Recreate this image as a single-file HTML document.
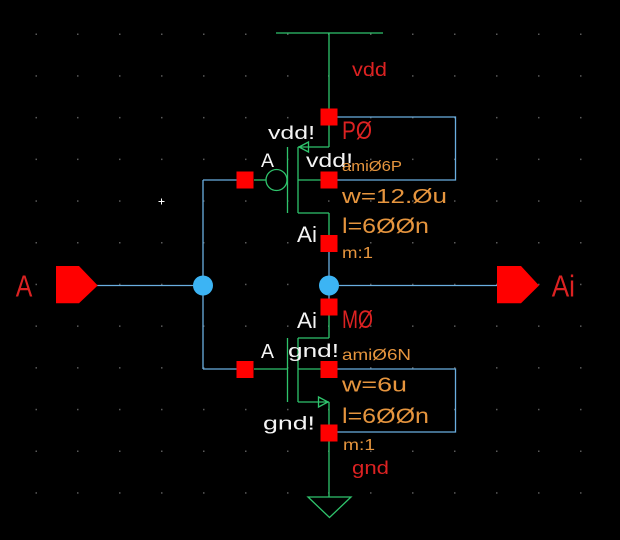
<!DOCTYPE html>
<html><head><meta charset="utf-8"><style>
html,body{margin:0;padding:0;background:#000;}
svg{display:block;}
text{font-family:"Liberation Sans",sans-serif;}
</style></head><body>
<svg width="620" height="540" viewBox="0 0 620 540" xmlns="http://www.w3.org/2000/svg">
<rect width="620" height="540" fill="#000"/>
<g fill="#5a5a5a">
<!-- grid dots -->
<g id="row">
<rect x="35.5" y="33.5" width="1.5" height="1.5"/><rect x="77" y="33.5" width="1.5" height="1.5"/><rect x="119" y="33.5" width="1.5" height="1.5"/><rect x="161" y="33.5" width="1.5" height="1.5"/><rect x="203" y="33.5" width="1.5" height="1.5"/><rect x="245" y="33.5" width="1.5" height="1.5"/><rect x="287" y="33.5" width="1.5" height="1.5"/><rect x="328" y="33.5" width="1.5" height="1.5"/><rect x="370" y="33.5" width="1.5" height="1.5"/><rect x="412" y="33.5" width="1.5" height="1.5"/><rect x="454" y="33.5" width="1.5" height="1.5"/><rect x="496" y="33.5" width="1.5" height="1.5"/><rect x="538" y="33.5" width="1.5" height="1.5"/><rect x="580" y="33.5" width="1.5" height="1.5"/>
</g>
<use href="#row" y="41.7"/><use href="#row" y="83.4"/><use href="#row" y="125.1"/><use href="#row" y="166.8"/><use href="#row" y="208.5"/><use href="#row" y="250.2"/><use href="#row" y="291.9"/><use href="#row" y="333.6"/><use href="#row" y="375.3"/><use href="#row" y="417"/><use href="#row" y="458.7"/>
</g>
<path d="M158.5 201.5h6M161.5 198.5v6" stroke="#fff" stroke-width="1"/>

<!-- blue wires -->
<g stroke="#6aaee0" stroke-width="1.3" fill="none">
<path d="M97 285.5H203M203 180V369M203 180H245M203 369H245M329 285.5H497M329 243V307"/>
<path d="M329 117H455.5V180H329"/>
<path d="M329 369H455.5V432H329"/>
</g>

<!-- green device lines -->
<g stroke="#2fc46c" stroke-width="1.3" fill="none">
<path d="M276 33H383M329 33V147"/>
<path d="M298 147H329M298 147V213M287.5 147V213M298 180H329M298 213H329M329 213V243"/>
<path d="M299 147L308.5 142V152Z"/>
<circle cx="276.5" cy="180" r="10.5"/>
<path d="M254 180H266"/>
<path d="M329 307V338M298 338H329M298 338V402M287.5 338V402M298 369H329M298 402H329M329 402V497"/>
<path d="M328 402L318.5 397V407Z"/>
<path d="M254 369H287.5"/>
<path d="M308 497H351L329.5 517.5Z"/>
</g>

<!-- pins -->
<polygon points="56,266 79,266 97.7,285.5 79,303.3 56,303.3" fill="#ff0000"/>
<polygon points="497,266 521,266 539,285.5 521,303.3 497,303.3" fill="#ff0000"/>

<!-- junction dots -->
<circle cx="203" cy="285.5" r="10" fill="#3cb4f4"/>
<circle cx="329" cy="285.5" r="10" fill="#3cb4f4"/>

<!-- terminal squares -->
<g fill="#ff0000">
<rect x="320.5" y="108.5" width="17" height="17"/>
<rect x="320.5" y="171.5" width="17" height="17"/>
<rect x="236.5" y="171.5" width="17" height="17"/>
<rect x="320.5" y="235" width="17" height="17"/>
<rect x="320.5" y="298.5" width="17" height="17"/>
<rect x="320.5" y="361" width="17" height="17"/>
<rect x="236.5" y="361" width="17" height="17"/>
<rect x="320.5" y="424.5" width="17" height="17"/>
</g>

<!-- red labels -->
<g fill="#dc2222">
<text x="15.7" y="296.7" font-size="31" textLength="16.6" lengthAdjust="spacingAndGlyphs">A</text>
<text x="551.7" y="296.7" font-size="31" textLength="23.3" lengthAdjust="spacingAndGlyphs">Ai</text>
<text x="352" y="76" font-size="19" textLength="35" lengthAdjust="spacingAndGlyphs">vdd</text>
<text x="342" y="139" font-size="25" textLength="30" lengthAdjust="spacingAndGlyphs">PØ</text>
<text x="342" y="328" font-size="25" textLength="31" lengthAdjust="spacingAndGlyphs">MØ</text>
<text x="352" y="474" font-size="18" textLength="37" lengthAdjust="spacingAndGlyphs">gnd</text>
</g>

<!-- white labels -->
<g fill="#f4f4f4">
<text x="268" y="139" font-size="18" textLength="47" lengthAdjust="spacingAndGlyphs">vdd!</text>
<text x="261" y="167" font-size="19" textLength="13" lengthAdjust="spacingAndGlyphs">A</text>
<text x="306" y="167" font-size="19" textLength="47" lengthAdjust="spacingAndGlyphs">vdd!</text>
<text x="297" y="242" font-size="22" textLength="20" lengthAdjust="spacingAndGlyphs">Ai</text>
<text x="297" y="328" font-size="22" textLength="20" lengthAdjust="spacingAndGlyphs">Ai</text>
<text x="261" y="358" font-size="20" textLength="13" lengthAdjust="spacingAndGlyphs">A</text>
<text x="288" y="357" font-size="18" textLength="51" lengthAdjust="spacingAndGlyphs">gnd!</text>
<text x="263" y="429.5" font-size="18" textLength="52" lengthAdjust="spacingAndGlyphs">gnd!</text>
</g>

<!-- orange property labels -->
<g fill="#e6953e">
<text x="342" y="171" font-size="15" textLength="60" lengthAdjust="spacingAndGlyphs">amiØ6P</text>
<text x="342" y="203" font-size="20" textLength="105" lengthAdjust="spacingAndGlyphs">w=12.Øu</text>
<text x="342" y="233" font-size="21" textLength="87" lengthAdjust="spacingAndGlyphs">l=6ØØn</text>
<text x="342" y="258" font-size="16" textLength="31" lengthAdjust="spacingAndGlyphs">m:1</text>
<text x="342" y="360" font-size="16" textLength="69" lengthAdjust="spacingAndGlyphs">amiØ6N</text>
<text x="342" y="391.7" font-size="20" textLength="65" lengthAdjust="spacingAndGlyphs">w=6u</text>
<text x="342" y="423" font-size="21" textLength="87" lengthAdjust="spacingAndGlyphs">l=6ØØn</text>
<text x="343" y="450" font-size="16" textLength="32" lengthAdjust="spacingAndGlyphs">m:1</text>
</g>
</svg>
</body></html>
